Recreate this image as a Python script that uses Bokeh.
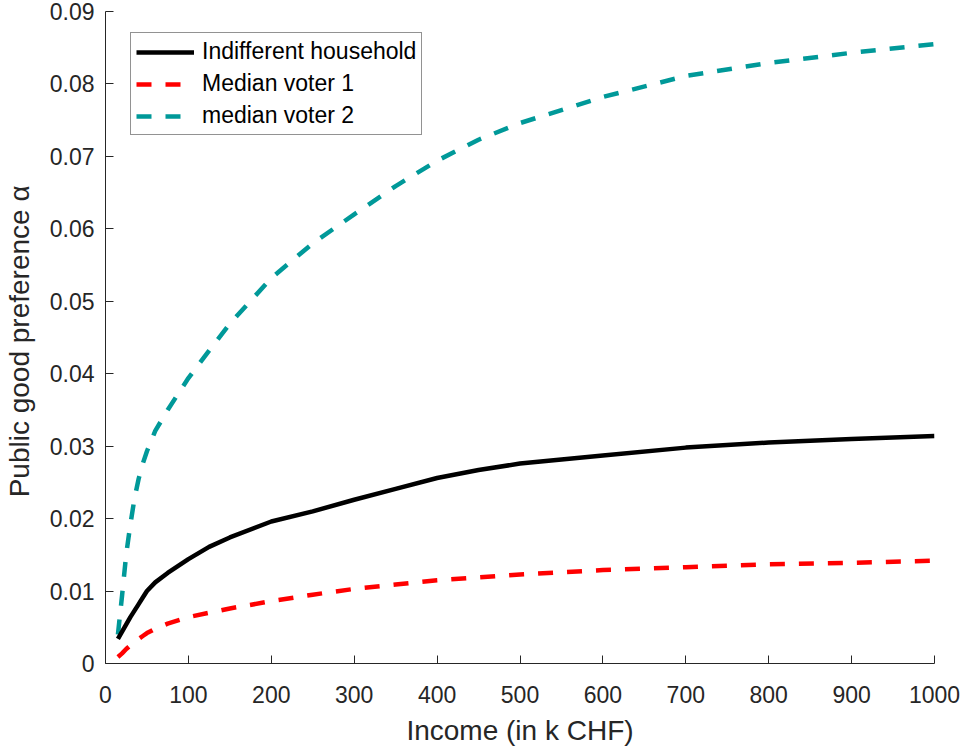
from bokeh.plotting import figure
from bokeh.models import Range1d, FixedTicker, NumeralTickFormatter, Legend, LegendItem
from bokeh.embed import file_html
from bokeh.resources import INLINE

income = [15, 20, 25, 30, 35, 40, 45, 50, 60, 75, 100, 125, 150, 200, 250, 300, 350,
          400, 450, 500, 600, 700, 800, 900, 1000]
indifferent = [0.0034, 0.0044, 0.0054, 0.0064, 0.0073, 0.0082, 0.0091, 0.0100, 0.0112,
               0.0125, 0.0144, 0.0161, 0.0174, 0.0196, 0.0210, 0.0226, 0.0241, 0.0256,
               0.0267, 0.0276, 0.0287, 0.0298, 0.0305, 0.0310, 0.0314]
median1 = [0.0009, 0.0014, 0.0020, 0.0025, 0.0030, 0.0034, 0.0038, 0.0042, 0.0048,
           0.0055, 0.0064, 0.0070, 0.0076, 0.0086, 0.0095, 0.0103, 0.0109, 0.0115,
           0.0119, 0.0123, 0.0129, 0.0133, 0.0137, 0.0139, 0.0142]
median2 = [0.0040, 0.0094, 0.0151, 0.0192, 0.0228, 0.0255, 0.0276, 0.0293, 0.0321,
           0.0350, 0.0394, 0.0432, 0.0469, 0.0532, 0.0580, 0.0620, 0.0659, 0.0694,
           0.0723, 0.0746, 0.0782, 0.0811, 0.0829, 0.0843, 0.0855]
x_ticks = [0, 100, 200, 300, 400, 500, 600, 700, 800, 900, 1000]
y_ticks = [0, 0.01, 0.02, 0.03, 0.04, 0.05, 0.06, 0.07, 0.08, 0.09]

FONT = "Liberation Sans"
AX = "#262626"

p = figure(width=962, height=748, output_backend="svg", toolbar_location=None,
           x_range=Range1d(0, 1000), y_range=Range1d(0, 0.09),
           min_border_left=104, min_border_top=11, min_border_right=28, min_border_bottom=85)
p.outline_line_color = None
p.grid.visible = False
p.background_fill_color = "white"
p.border_fill_color = "white"

for ax in (p.xaxis[0], p.yaxis[0]):
    ax.axis_line_color = AX
    ax.axis_line_width = 1
    ax.major_tick_line_color = AX
    ax.major_tick_in = 8
    ax.major_tick_out = 0
    ax.minor_tick_line_color = None
    ax.major_label_text_font = FONT
    ax.major_label_text_font_size = "23px"
    ax.major_label_text_color = AX
    ax.axis_label_text_font = FONT
    ax.axis_label_text_font_size = "28px"
    ax.axis_label_text_font_style = "normal"
    ax.axis_label_text_color = AX

p.xaxis.ticker = FixedTicker(ticks=x_ticks)
p.yaxis.ticker = FixedTicker(ticks=y_ticks)
p.yaxis.formatter = NumeralTickFormatter(format="0.[00]")
p.xaxis.major_label_standoff = 22
p.yaxis.major_label_standoff = 11
p.xaxis.axis_label = "Income (in k CHF)"
p.yaxis.axis_label = "Public good preference  α"
p.xaxis.axis_label_standoff = 9
p.yaxis.axis_label_standoff = 12

r2 = p.line(income, median2, line_color="#009999", line_width=4.5, line_dash="15 14")
r1 = p.line(income, median1, line_color="#FF0000", line_width=4.5, line_dash="15 14")
r0 = p.line(income, indifferent, line_color="black", line_width=4.5)

legend = Legend(items=[LegendItem(label="Indifferent household", renderers=[r0]),
                       LegendItem(label="Median voter 1", renderers=[r1]),
                       LegendItem(label="median voter 2", renderers=[r2])],
                location=(25, 528), margin=0, padding=5, spacing=5,
                glyph_width=58, glyph_height=20, label_height=20, label_standoff=8,
                label_text_font=FONT, label_text_font_size="23px", label_text_color="black",
                border_line_color=AX, border_line_width=1, background_fill_alpha=1)
p.add_layout(legend)

open("out.html", "w").write(file_html(p, INLINE))
